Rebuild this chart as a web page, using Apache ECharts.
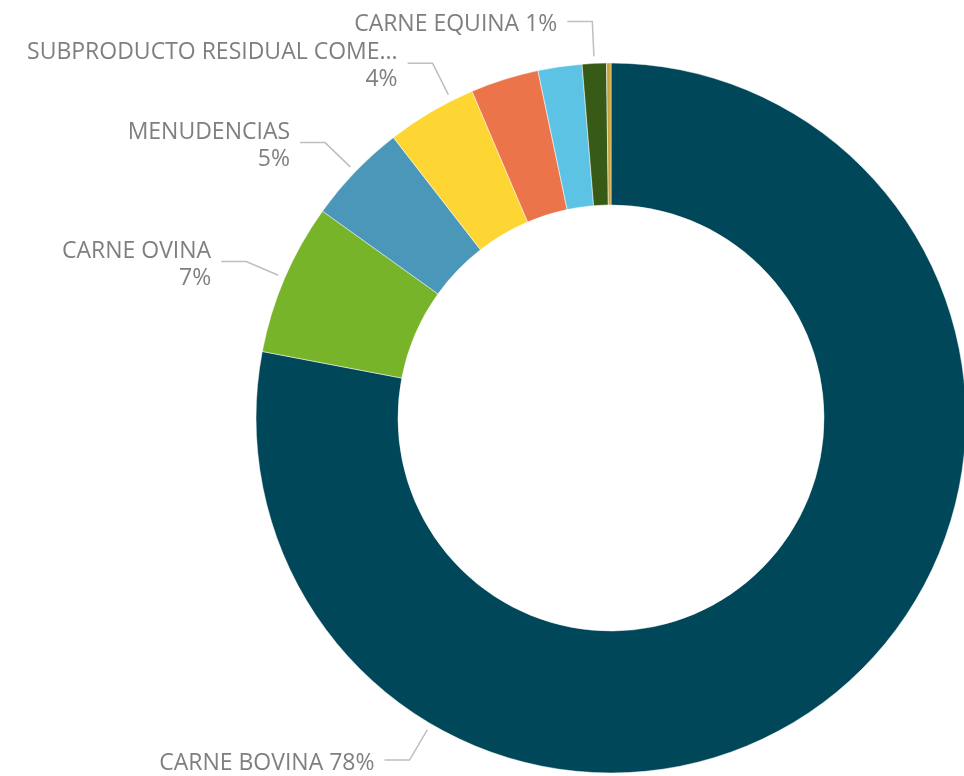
<!DOCTYPE html>
<html>
<head>
<meta charset="utf-8">
<script src="https://cdn.jsdelivr.net/npm/echarts@6/dist/echarts.min.js"></script>
<style>
  html, body { margin: 0; background: #fff; }
  #chart { width: 964px; height: 776px; }
</style>
</head>
<body>
<div id="chart"></div>
<script>
// datos (porcentaje de cada categoria)
const categories = [
  'CARNE BOVINA',
  'CARNE OVINA',
  'MENUDENCIAS',
  'SUBPRODUCTO RESIDUAL COMESTIBLE',
  'CARNE PORCINA',
  'CARNE CAPRINA',
  'CARNE EQUINA',
  'OTROS'
]
const values = [78.0, 6.9, 4.6, 4.1, 3.1, 2.0, 1.1, 0.2]
const colors = ['#004759', '#78B42A', '#4B97B9', '#FDD633', '#EC744A', '#5DC3E5', '#375A16', '#C9A43C']
const showLabel = [true, true, true, true, false, false, true, false]
const twoLines = [false, true, true, true, false, false, false, false]
// Excel movio algunas etiquetas a otro angulo (grados desde las 12, horario)
const labelAngle = { 0: 210.5, 3: 333.3 }

const cx = 611
const cy = 418
const rIn = 213
const rOut = 355

const total = values.reduce((a, b) => a + b, 0)
const midAngles = []
let acc = 0
values.forEach(v => {
  midAngles.push((acc + v / 2) / total * 360)
  acc += v
})

const chart = echarts.init(document.getElementById('chart'))

chart.setOption({
  animation: false,
  series: [{
    type: 'pie',
    center: [cx, cy],
    radius: [rIn, rOut],
    startAngle: 90,
    clockwise: true,
    percentPrecision: 0,
    silent: true,
    itemStyle: {
      borderColor: '#ffffff',
      borderWidth: 0.5
    },
    label: {
      position: 'outside',
      fontFamily: 'Open Sans',
      fontSize: 23,
      lineHeight: 27,
      color: '#7F7F7F',
      align: 'right',
      overflow: 'none',
      formatter: p => {
        let name = p.name.length > 25 ? p.name.slice(0, 25) + '...' : p.name
        return twoLines[p.dataIndex] ? name + '\n' + p.percent + '%' : name + ' ' + p.percent + '%'
      }
    },
    labelLine: {
      show: true,
      lineStyle: { color: '#BFBFBF', width: 1.5 }
    },
    labelLayout: params => {
      const i = params.dataIndex
      const a = (labelAngle[i] != null ? labelAngle[i] : midAngles[i]) * Math.PI / 180
      const ux = Math.sin(a)
      const uy = -Math.cos(a)
      const p0 = [cx + (rOut + 7) * ux, cy + (rOut + 7) * uy]
      const p1 = [cx + (rOut + 42) * ux, cy + (rOut + 42) * uy]
      const p2 = [p1[0] - 25, p1[1]]
      return {
        x: p2[0] - 10,
        y: p2[1] + 3,
        align: 'right',
        verticalAlign: 'middle',
        labelLinePoints: [p0, p1, p2]
      }
    },
    data: categories.map((name, i) => ({
      name: name,
      value: values[i],
      itemStyle: { color: colors[i] },
      label: { show: showLabel[i] },
      labelLine: { show: showLabel[i] }
    }))
  }]
})
</script>
</body>
</html>
